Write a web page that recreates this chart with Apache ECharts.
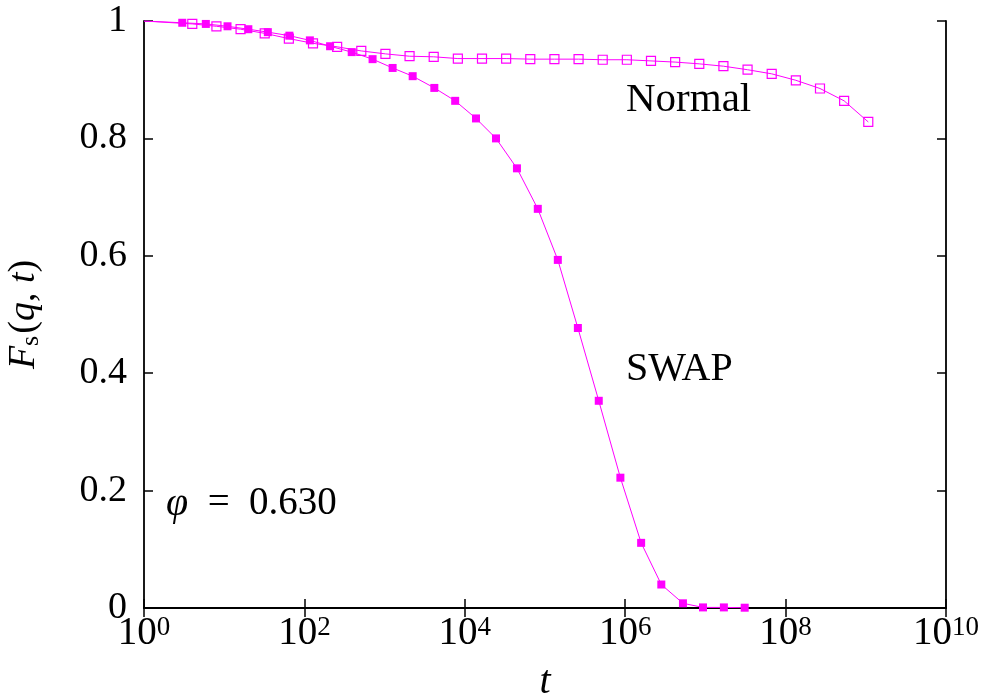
<!DOCTYPE html>
<html>
<head>
<meta charset="utf-8">
<title>Fs(q,t)</title>
<script src="https://cdn.jsdelivr.net/npm/echarts@6/dist/echarts.min.js"></script>
<style>
  html, body { margin: 0; padding: 0; background: #fff; }
  #main { width: 981px; height: 693px; }
</style>
</head>
<body>
<div id="main"></div>
<script>
// SWAP (filled squares)
var swapT = [1, 3.0, 5.9, 11, 20, 35, 65, 117, 209, 389, 708, 1259, 2239, 4169, 7586,
  13800, 24500, 44700, 81300, 144500, 257000, 468000, 871000, 1580000, 2820000,
  5250000, 9330000, 17000000, 30900000];
var swapF = [1, 0.997, 0.995, 0.991, 0.986, 0.981, 0.975, 0.967, 0.957, 0.947, 0.935, 0.920,
  0.906, 0.886, 0.864, 0.834, 0.800, 0.749, 0.680, 0.593, 0.477, 0.353, 0.222, 0.111,
  0.040, 0.008, 0.001, 0.001, 0.0005];

// Normal (open squares)
var normalT = [1, 4, 8, 16, 32, 64, 128, 256, 512, 1024, 2048, 4096, 8192, 16384, 32768,
  65536, 131072, 262144, 524288, 1048576, 2097152, 4194304, 8388608, 16777216,
  33554432, 67108864, 134217728, 268435456, 536870912, 1073741824];
var normalF = [1, 0.995, 0.991, 0.986, 0.979, 0.970, 0.962, 0.956, 0.949, 0.944, 0.940,
  0.939, 0.936, 0.936, 0.936, 0.935, 0.935, 0.935, 0.934, 0.934, 0.932, 0.930,
  0.927, 0.923, 0.917, 0.910, 0.899, 0.885, 0.864, 0.828];

var yTicks = [0, 0.2, 0.4, 0.6, 0.8, 1];

var FONT = '"Liberation Serif", "DejaVu Serif", serif';
var MAG = '#ff00ff';

// first point sits on the axis: draw the line to it but no marker
function pairs(ts, fs) {
  return ts.map(function (t, i) {
    var p = { value: [t, fs[i]] };
    if (i === 0) p.symbolSize = 0;
    return p;
  });
}

var chart = echarts.init(document.getElementById('main'));

var tickStyle = { show: true, inside: true, length: 9, lineStyle: { color: '#000', width: 1.5 } };
var lineStyle = { show: true, lineStyle: { color: '#000', width: 1.8 } };

chart.setOption({
  backgroundColor: '#fff',
  animation: false,
  grid: { left: 144, right: 35, top: 21, bottom: 85, containLabel: false, outerBoundsMode: 'none' },
  xAxis: [
    {
      type: 'log',
      logBase: 10,
      min: 1,
      max: 1e10,
      interval: 2,
      name: 't',
      nameLocation: 'middle',
      nameGap: 54,
      nameTextStyle: { fontFamily: FONT, fontSize: 40, fontStyle: 'italic', color: '#000' },
      axisLine: lineStyle,
      axisTick: tickStyle,
      splitLine: { show: false },
      axisLabel: {
        margin: 6,
        color: '#000',
        formatter: function (v) {
          return '{b|10}{s|' + Math.round(Math.log10(v)) + '}';
        },
        rich: {
          b: { fontFamily: FONT, fontSize: 39, color: '#000', verticalAlign: 'bottom' },
          s: { fontFamily: FONT, fontSize: 27, color: '#000', verticalAlign: 'top' }
        }
      }
    },
    {
      type: 'log',
      logBase: 10,
      min: 1,
      max: 1e10,
      interval: 2,
      position: 'top',
      axisLine: lineStyle,
      axisTick: tickStyle,
      axisLabel: { show: false },
      splitLine: { show: false }
    }
  ],
  yAxis: [
    {
      type: 'value',
      min: yTicks[0],
      max: yTicks[yTicks.length - 1],
      interval: 0.2,
      name: '{i|F}{sub|s}{n|(}{i|q}{n|, }{i|t}{n|)}',
      nameLocation: 'middle',
      nameRotate: 90,
      nameGap: 100,
      nameTextStyle: {
        rich: {
          i: { fontFamily: FONT, fontSize: 38, fontStyle: 'italic', color: '#000' },
          n: { fontFamily: FONT, fontSize: 38, color: '#000' },
          sub: { fontFamily: FONT, fontSize: 26, color: '#000', verticalAlign: 'bottom', padding: [14, 2, 0, 0] }
        }
      },
      axisLine: lineStyle,
      axisTick: tickStyle,
      splitLine: { show: false },
      axisLabel: {
        margin: 17,
        fontFamily: FONT,
        fontSize: 38,
        color: '#000',
        formatter: function (v) { return v === 0 || v === 1 ? String(v) : v.toFixed(1); }
      }
    },
    {
      type: 'value',
      min: 0,
      max: 1,
      interval: 0.2,
      position: 'right',
      axisLine: lineStyle,
      axisTick: tickStyle,
      axisLabel: { show: false },
      splitLine: { show: false }
    }
  ],
  series: [
    {
      name: 'Normal',
      type: 'line',
      data: pairs(normalT, normalF),
      symbol: 'rect',
      symbolSize: 9,
      lineStyle: { color: MAG, width: 1 },
      itemStyle: { color: 'rgba(255,255,255,0)', borderColor: MAG, borderWidth: 1.2 },
      z: 3
    },
    {
      name: 'SWAP',
      type: 'line',
      data: pairs(swapT, swapF),
      symbol: 'rect',
      symbolSize: 8,
      lineStyle: { color: MAG, width: 1 },
      itemStyle: { color: MAG },
      z: 4
    }
  ],
  graphic: [
    {
      type: 'text', left: 626, top: 80,
      style: { text: 'Normal', font: '41px ' + FONT, fill: '#000' }
    },
    {
      type: 'text', left: 626, top: 349,
      style: { text: 'SWAP', font: '40px ' + FONT, fill: '#000' }
    },
    {
      type: 'text', left: 166, top: 484,
      style: {
        text: '{i|φ}{n|  =  0.630}',
        rich: {
          i: { fontFamily: FONT, fontSize: 40, fontStyle: 'italic', fill: '#000' },
          n: { fontFamily: FONT, fontSize: 39, fill: '#000' }
        }
      }
    }
  ]
});
</script>
</body>
</html>
